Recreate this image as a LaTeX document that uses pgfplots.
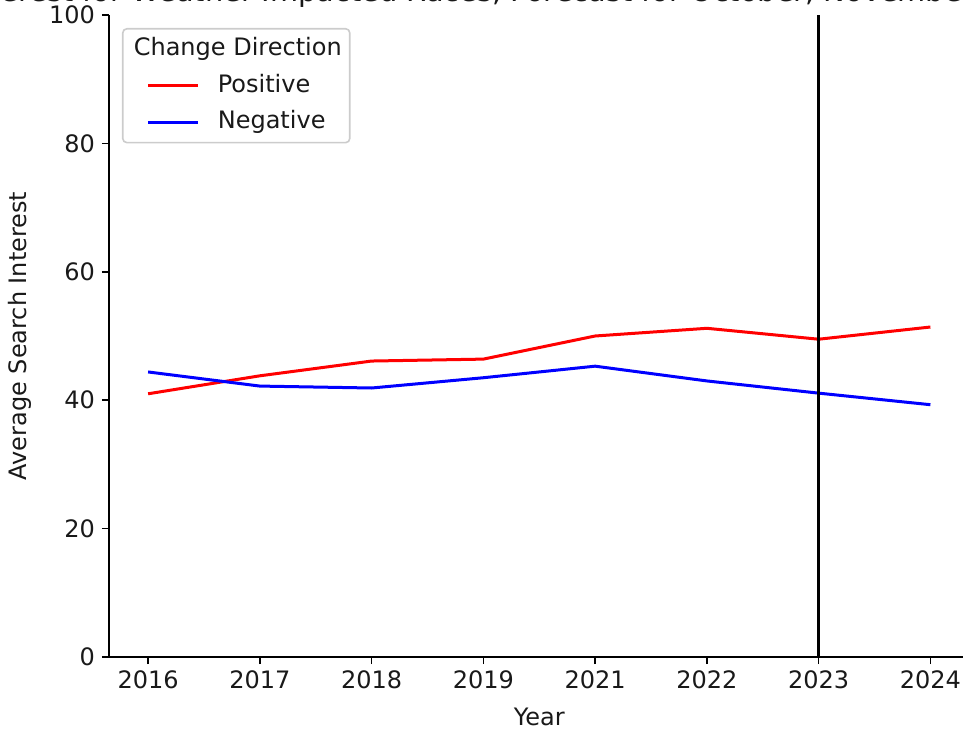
\documentclass[border=0pt]{standalone}
\usepackage{fontspec}
\setmainfont{DejaVu Sans}
\usepackage{pgfplots}
\pgfplotsset{compat=1.18}
\begin{document}
\begin{tikzpicture}
\begin{axis}[
  scale only axis, width=430.25pt, height=321pt,
  xmin=-0.35, xmax=7.35, ymin=0, ymax=100,
  xtick={0,...,7},
  xticklabels={2016,2017,2018,2019,2021,2022,2023,2024},
  ytick={0,20,40,60,80,100},
  axis x line*=bottom, axis y line*=left,
  axis line style={-, line width=0.8pt},
  tick align=outside, major tick length=3.5pt,
  tick style={line width=0.8pt, black},
  /pgf/number format/assume math mode=true,
  ticklabel style={font=\fontsize{12}{14}\selectfont, text=black!90},
  xlabel={Year}, ylabel={Average Search Interest},
  label style={font=\fontsize{12}{14}\selectfont, text=black!90},
  xlabel style={at={(axis description cs:0.5,-0.0935)}, anchor=center},
  ylabel style={at={(axis description cs:-0.1034,0.5)}, anchor=center},
  title={Search Interest for Weather Impacted Races, Forecast for October, November, December 2023},
  title style={font=\fontsize{14.4}{17}\selectfont, text=black!90, at={(0.5,1)}, anchor=base, yshift=0.6pt},
  legend cell align=left,
  legend image code/.code={\path (0pt,0pt); \draw[#1] (8pt,0pt) -- (33pt,0pt);},
  legend style={at={(0,1)}, anchor=north west, xshift=6.5pt, yshift=-6.5pt,
    draw=black!20, line width=0.8pt, rounded corners=2pt, fill=white, fill opacity=0.8, text opacity=1,
    inner xsep=4pt, inner ysep=4.5pt, row sep=6.85pt, column sep=9pt,
    nodes={inner sep=0pt, text height=9pt, text depth=2.4pt, font=\fontsize{12}{14}\selectfont, text=black!90}},
]
\addlegendimage{empty legend}
\addlegendentry{\hspace*{-42pt}Change Direction}
% Positive
\addplot[red, line width=1.5pt] coordinates {
  (0,41.0) (1,43.8) (2,46.1) (3,46.4) (4,50.0) (5,51.2) (6,49.5) (7,51.4)
};
\addlegendentry{Positive}
% Negative
\addplot[blue, line width=1.5pt] coordinates {
  (0,44.4) (1,42.2) (2,41.9) (3,43.5) (4,45.3) (5,43.0) (6,41.1) (7,39.3)
};
\addlegendentry{Negative}
% 2023 marker
\addplot[black, line width=1.5pt, forget plot] coordinates {(6,0) (6,100)};
\end{axis}
\pgfresetboundingbox
\useasboundingbox (-54.5pt,-36pt) rectangle (427pt,328.5pt);
\end{tikzpicture}
\end{document}
